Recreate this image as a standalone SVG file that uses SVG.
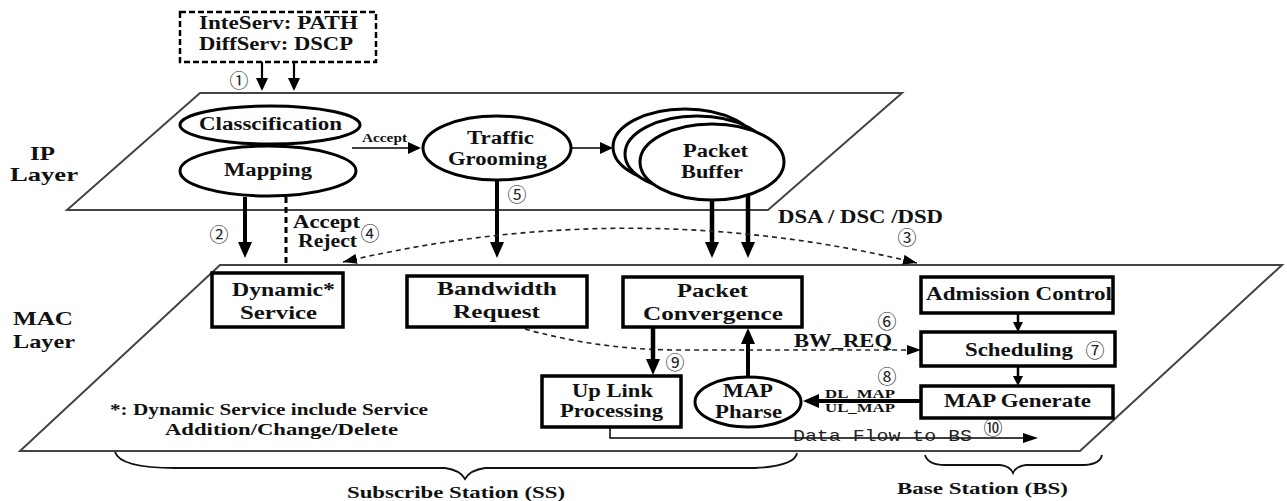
<svg xmlns="http://www.w3.org/2000/svg" width="1287" height="501" viewBox="0 0 1287 501">
  <style>
    .t { font-family: "Liberation Serif", "DejaVu Serif", "Times New Roman", serif; font-weight: 700; font-size: 18px; fill: #111; }
    .sm { font-size: 13px; }
    .big { font-size: 19px; }
    .fn { font-size: 16px; }
    .n { font-family: "Noto Sans CJK SC", "DejaVu Sans", sans-serif; font-size: 19px; font-weight: normal; fill: #222; }
    .mono { font-family: "Liberation Mono", "DejaVu Sans Mono", monospace; font-size: 17px; fill: #222; }
    .plane { fill: #fff; stroke: #444; stroke-width: 2; }
    .box { fill: #fff; stroke: #000; stroke-width: 3.5; }
    .ell { fill: #fff; stroke: #000; stroke-width: 3; }
    .ln { fill: none; stroke: #000; }
    .dash { fill: none; stroke: #222; stroke-width: 1.6; stroke-dasharray: 5 4; }
    .brace { fill: none; stroke: #111; stroke-width: 1.8; }
  </style>
  <defs>
    <marker id="ahL" viewBox="0 0 16 14" refX="4" refY="7" markerWidth="16" markerHeight="14" markerUnits="userSpaceOnUse" orient="auto"><path d="M0,0 L16,7 L0,14 z" fill="#000"/></marker>
    <marker id="ahM" viewBox="0 0 13 12" refX="3" refY="6" markerWidth="13" markerHeight="12" markerUnits="userSpaceOnUse" orient="auto"><path d="M0,0 L13,6 L0,12 z" fill="#000"/></marker>
    <marker id="ahS" viewBox="0 0 10 10" refX="2" refY="5" markerWidth="10" markerHeight="10" markerUnits="userSpaceOnUse" orient="auto"><path d="M0,0 L10,5 L0,10 z" fill="#000"/></marker>
    <marker id="ahF" viewBox="0 0 15 10" refX="2" refY="5" markerWidth="15" markerHeight="10" markerUnits="userSpaceOnUse" orient="auto"><path d="M0,0 L15,5 L0,10 z" fill="#000"/></marker>
    <marker id="ahD" viewBox="0 0 14 10" refX="14" refY="5" markerWidth="14" markerHeight="10" markerUnits="userSpaceOnUse" orient="auto-start-reverse"><path d="M0,0 L14,5 L0,10 z" fill="#000"/></marker>
  </defs>

  <rect width="1287" height="501" fill="#fff"/>

  <!-- layer planes -->
  <g id="ip-layer">
    <polygon class="plane" points="200,93 902,93 768,210 67,210"/>
    <text class="t big" x="42.5" y="160" text-anchor="middle" textLength="25" lengthAdjust="spacingAndGlyphs">IP</text>
    <text class="t big" x="44" y="181" text-anchor="middle" textLength="68" lengthAdjust="spacingAndGlyphs">Layer</text>
  </g>
  <g id="mac-layer">
    <polygon class="plane" points="220,265 1282,265 1080,451 20,451"/>
    <text class="t big" x="43" y="325" text-anchor="middle" textLength="60" lengthAdjust="spacingAndGlyphs">MAC</text>
    <text class="t big" x="44" y="348" text-anchor="middle" textLength="62" lengthAdjust="spacingAndGlyphs">Layer</text>
  </g>

  <!-- connectors -->
  <g id="connectors">
    <path class="ln" stroke-width="2.2" d="M262,62 V81" marker-end="url(#ahM)"/>
    <path class="ln" stroke-width="2.2" d="M294,62 V81" marker-end="url(#ahM)"/>
    <path class="ln" stroke-width="4" d="M245,197 V246" marker-end="url(#ahL)"/>
    <path class="ln" stroke-width="3" stroke-dasharray="6 4" d="M286,197 V265"/>
    <path class="ln" stroke-width="1.5" d="M352,148 H411" marker-end="url(#ahM)"/>
    <path class="ln" stroke-width="1.5" d="M571,148 H603" marker-end="url(#ahM)"/>
    <path class="ln" stroke-width="4" d="M497,181 V246" marker-end="url(#ahL)"/>
    <path class="ln" stroke-width="4.5" d="M712,200 V246" marker-end="url(#ahL)"/>
    <path class="ln" stroke-width="4.5" d="M748,195 V246" marker-end="url(#ahL)"/>
    <path class="dash" d="M343,262 Q631,194 917,263" marker-start="url(#ahD)" marker-end="url(#ahD)"/>
    <path class="dash" d="M525,329 Q600,350 680,350 L921,350" marker-end="url(#ahD)"/>
    <path class="ln" stroke-width="4.5" d="M653,327 V363" marker-end="url(#ahL)"/>
    <path class="ln" stroke-width="4" d="M748,377 V340" marker-end="url(#ahL)"/>
    <path class="ln" stroke-width="4" d="M921,401 H815" marker-end="url(#ahL)"/>
    <path class="ln" stroke-width="2.5" d="M1018,313 V324" marker-end="url(#ahS)"/>
    <path class="ln" stroke-width="2.5" d="M1018,366 V378" marker-end="url(#ahS)"/>
    <path class="ln" stroke-width="1.5" d="M610,427 V438 H1025" marker-end="url(#ahF)"/>

    <text class="n" x="239" y="88" text-anchor="middle">①</text>
    <text class="n" x="219" y="242" text-anchor="middle">②</text>
    <text class="n" x="907" y="245" text-anchor="middle">③</text>
    <text class="n" x="370" y="241" text-anchor="middle">④</text>
    <text class="n" x="517" y="202" text-anchor="middle">⑤</text>
    <text class="n" x="887" y="329" text-anchor="middle">⑥</text>
    <text class="n" x="887" y="384" text-anchor="middle">⑧</text>
    <text class="n" x="675" y="370" text-anchor="middle">⑨</text>
    <text class="n" x="993" y="435" text-anchor="middle">⑩</text>

    <text class="t sm" x="384.5" y="142" text-anchor="middle" textLength="45" lengthAdjust="spacingAndGlyphs">Accept</text>
    <text class="t" x="326.5" y="228" text-anchor="middle" textLength="67" lengthAdjust="spacingAndGlyphs">Accept</text>
    <text class="t" x="327.5" y="247" text-anchor="middle" textLength="59" lengthAdjust="spacingAndGlyphs">Reject</text>
    <text class="t" x="860.5" y="223" text-anchor="middle" textLength="165" lengthAdjust="spacingAndGlyphs">DSA / DSC /DSD</text>
    <text class="t" x="843" y="347" text-anchor="middle" textLength="98" lengthAdjust="spacingAndGlyphs">BW_REQ</text>
    <text class="t sm" x="860" y="398" text-anchor="middle" textLength="70" lengthAdjust="spacingAndGlyphs">DL_MAP</text>
    <text class="t sm" x="860" y="412" text-anchor="middle" textLength="70" lengthAdjust="spacingAndGlyphs">UL_MAP</text>
    <text class="mono" x="793" y="441" textLength="179" lengthAdjust="spacingAndGlyphs">Data Flow to BS</text>
  </g>

  <!-- IP layer nodes -->
  <g id="qos-source">
    <rect x="180" y="12" width="196" height="50" fill="#fff" stroke="#000" stroke-width="2.5" stroke-dasharray="6 3"/>
    <text class="t" x="278.5" y="29" text-anchor="middle" textLength="159" lengthAdjust="spacingAndGlyphs">InteServ: PATH</text>
    <text class="t" x="276" y="50" text-anchor="middle" textLength="154" lengthAdjust="spacingAndGlyphs">DiffServ: DSCP</text>
  </g>
  <g id="classification">
    <ellipse class="ell" cx="270" cy="125" rx="90" ry="19"/>
    <text class="t" x="270.5" y="130" text-anchor="middle" textLength="143" lengthAdjust="spacingAndGlyphs">Classcification</text>
  </g>
  <g id="mapping">
    <ellipse class="ell" cx="268" cy="171" rx="88" ry="25"/>
    <text class="t" x="268" y="176" text-anchor="middle" textLength="88" lengthAdjust="spacingAndGlyphs">Mapping</text>
  </g>
  <g id="traffic-grooming">
    <ellipse class="ell" cx="497" cy="148" rx="74" ry="32"/>
    <text class="t" x="500.5" y="144" text-anchor="middle" textLength="67" lengthAdjust="spacingAndGlyphs">Traffic</text>
    <text class="t" x="497.5" y="165" text-anchor="middle" textLength="99" lengthAdjust="spacingAndGlyphs">Grooming</text>
  </g>
  <g id="packet-buffer">
    <ellipse class="ell" cx="685" cy="147" rx="72" ry="38"/>
    <ellipse class="ell" cx="697" cy="154" rx="72" ry="38"/>
    <ellipse class="ell" cx="712" cy="162" rx="72" ry="38"/>
    <text class="t" x="715.5" y="157" text-anchor="middle" textLength="65" lengthAdjust="spacingAndGlyphs">Packet</text>
    <text class="t" x="712" y="178" text-anchor="middle" textLength="62" lengthAdjust="spacingAndGlyphs">Buffer</text>
  </g>

  <!-- MAC layer nodes -->
  <g id="dynamic-service">
    <rect class="box" x="212" y="273" width="131" height="54"/>
    <text class="t" x="283.5" y="296" text-anchor="middle" textLength="103" lengthAdjust="spacingAndGlyphs">Dynamic*</text>
    <text class="t" x="278.5" y="319" text-anchor="middle" textLength="77" lengthAdjust="spacingAndGlyphs">Service</text>
  </g>
  <g id="bandwidth-request">
    <rect class="box" x="407" y="276" width="180" height="51"/>
    <text class="t" x="497" y="295" text-anchor="middle" textLength="120" lengthAdjust="spacingAndGlyphs">Bandwidth</text>
    <text class="t" x="496.5" y="318" text-anchor="middle" textLength="87" lengthAdjust="spacingAndGlyphs">Request</text>
  </g>
  <g id="packet-convergence">
    <rect class="box" x="623" y="277" width="179" height="50"/>
    <text class="t" x="712.5" y="297" text-anchor="middle" textLength="71" lengthAdjust="spacingAndGlyphs">Packet</text>
    <text class="t" x="713" y="320" text-anchor="middle" textLength="140" lengthAdjust="spacingAndGlyphs">Convergence</text>
  </g>
  <g id="admission-control">
    <rect class="box" x="921" y="277" width="192" height="36"/>
    <text class="t" x="1019" y="300" text-anchor="middle" textLength="186" lengthAdjust="spacingAndGlyphs">Admission Control</text>
  </g>
  <g id="scheduling">
    <rect class="box" x="921" y="332" width="194" height="34"/>
    <text class="t" x="1019" y="356" text-anchor="middle" textLength="108" lengthAdjust="spacingAndGlyphs">Scheduling</text>
    <text class="n" x="1095" y="358" text-anchor="middle">⑦</text>
  </g>
  <g id="map-generate">
    <rect class="box" x="921" y="386" width="192" height="32"/>
    <text class="t" x="1017.5" y="407" text-anchor="middle" textLength="147" lengthAdjust="spacingAndGlyphs">MAP Generate</text>
  </g>
  <g id="uplink-processing">
    <rect class="box" x="542" y="376" width="139" height="51"/>
    <text class="t" x="612.5" y="397" text-anchor="middle" textLength="81" lengthAdjust="spacingAndGlyphs">Up Link</text>
    <text class="t" x="611.5" y="417" text-anchor="middle" textLength="103" lengthAdjust="spacingAndGlyphs">Processing</text>
  </g>
  <g id="map-pharse">
    <ellipse class="ell" cx="748" cy="402" rx="53" ry="25"/>
    <text class="t" x="748" y="397" text-anchor="middle" textLength="50" lengthAdjust="spacingAndGlyphs">MAP</text>
    <text class="t" x="748.5" y="418" text-anchor="middle" textLength="67" lengthAdjust="spacingAndGlyphs">Pharse</text>
  </g>

  <!-- footnote -->
  <g id="footnote">
    <text class="t fn" x="110" y="415" textLength="318" lengthAdjust="spacingAndGlyphs">*: Dynamic Service include Service</text>
    <text class="t fn" x="165" y="435" textLength="233" lengthAdjust="spacingAndGlyphs">Addition/Change/Delete</text>
  </g>

  <!-- station braces -->
  <g id="subscriber-station">
    <path class="brace" d="M115,452 Q120,468 175,468 L445,468 Q460,470 465,479 Q470,470 485,468 L755,468 Q795,466 797,453"/>
    <text class="t fn" x="456" y="498" text-anchor="middle" textLength="218" lengthAdjust="spacingAndGlyphs">Subscribe Station (SS)</text>
  </g>
  <g id="base-station">
    <path class="brace" d="M925,455 Q928,465 945,465 L1000,465 Q1010,466 1013,473 Q1016,466 1026,465 L1085,465 Q1100,464 1102,455"/>
    <text class="t fn" x="982.5" y="494" text-anchor="middle" textLength="171" lengthAdjust="spacingAndGlyphs">Base Station (BS)</text>
  </g>
</svg>
